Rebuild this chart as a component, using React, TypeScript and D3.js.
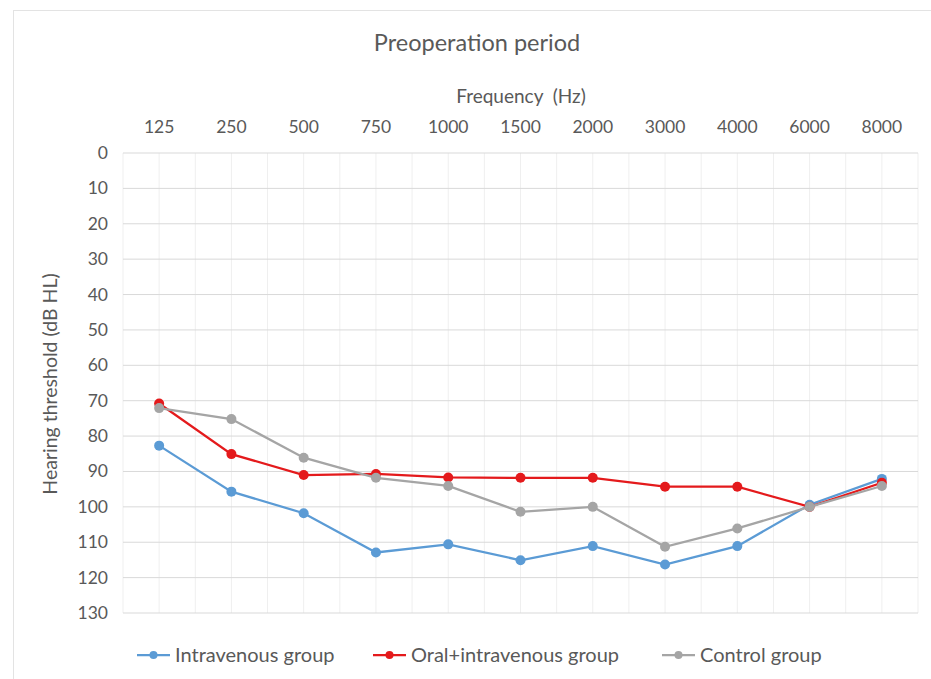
import React from "react";
import * as d3 from "d3";

const frequencies = ["125", "250", "500", "750", "1000", "1500", "2000", "3000", "4000", "6000", "8000"];
const intravenous = [82.7, 95.7, 101.8, 112.9, 110.6, 115.1, 111.1, 116.3, 111.1, 99.4, 92.1];
const oralIntravenous = [70.8, 85.1, 91.0, 90.7, 91.7, 91.8, 91.8, 94.3, 94.3, 100.0, 93.2];
const control = [72.1, 75.2, 86.1, 91.8, 94.1, 101.4, 100.0, 111.3, 106.1, 100.0, 94.1];
const yTicks = [0, 10, 20, 30, 40, 50, 60, 70, 80, 90, 100, 110, 120, 130];

const seriesNames = ["Intravenous group", "Oral+intravenous group", "Control group"];
const seriesColors = ["#5b9bd5", "#e41a1c", "#a5a5a5"];
const seriesValues = [intravenous, oralIntravenous, control];

const W = 931;
const H = 679;
const FONT = "Lato, 'Open Sans', sans-serif";

export default function App() {
  const x = d3.scaleBand<string>().domain(frequencies).range([123, 918]);
  const y = d3.scaleLinear().domain([0, 130]).range([153, 613]);
  const cx = (f: string) => (x(f) as number) + x.bandwidth() / 2;
  const line = d3
    .line<number>()
    .x((_, i) => cx(frequencies[i]))
    .y((v) => y(v));

  const halfLines: number[] = [];
  for (let k = 0; k <= frequencies.length * 2; k++) {
    halfLines.push(123 + (k * x.bandwidth()) / 2);
  }

  const legendX = [137, 373, 662];
  const legendY = 655;

  return (
    <svg
      width={W}
      height={H}
      style={{ position: "absolute", left: 0, top: 0, background: "#fff" }}
      fontFamily={FONT}
    >
      <rect x={0} y={0} width={W} height={H} fill="#fff" />
      <rect x={13.5} y={10.5} width={W} height={H} fill="none" stroke="#e3e3e3" />
      <text x={477} y={51} textAnchor="middle" fontSize={23.5} fill="#595959">
        Preoperation period
      </text>
      <text x={521} y={103} textAnchor="middle" fontSize={19} fill="#595959" style={{ whiteSpace: "pre" }}>
        {"Frequency  (Hz)"}
      </text>
      {halfLines.map((hx, i) => (
        <line key={"v" + i} x1={hx} x2={hx} y1={y(0)} y2={y(130)} stroke="#efefef" strokeWidth={1} />
      ))}
      {yTicks.map((t) => (
        <line key={"h" + t} x1={123} x2={918} y1={y(t)} y2={y(t)} stroke="#d9d9d9" strokeWidth={1} />
      ))}
      {yTicks.map((t) => (
        <text key={"yt" + t} x={108} y={y(t) + 6} textAnchor="end" fontSize={17.5} fill="#595959">
          {t}
        </text>
      ))}
      {frequencies.map((f) => (
        <text key={"xt" + f} x={cx(f)} y={133} textAnchor="middle" fontSize={17.5} fill="#595959">
          {f}
        </text>
      ))}
      <text
        transform={`translate(57, ${384}) rotate(-90)`}
        textAnchor="middle"
        fontSize={19.5}
        fill="#595959"
      >
        Hearing threshold (dB HL)
      </text>
      {seriesValues.map((vals, si) => (
        <g key={"s" + si}>
          <path d={line(vals) as string} fill="none" stroke={seriesColors[si]} strokeWidth={2.25} />
          {vals.map((v, i) => (
            <circle key={i} cx={cx(frequencies[i])} cy={y(v)} r={5} fill={seriesColors[si]} />
          ))}
        </g>
      ))}
      {seriesNames.map((n, si) => (
        <g key={"l" + si}>
          <line
            x1={legendX[si]}
            x2={legendX[si] + 33}
            y1={legendY}
            y2={legendY}
            stroke={seriesColors[si]}
            strokeWidth={2.25}
          />
          <circle cx={legendX[si] + 16.5} cy={legendY} r={4} fill={seriesColors[si]} />
          <text x={legendX[si] + 38} y={legendY + 7} fontSize={20} fill="#595959">
            {n}
          </text>
        </g>
      ))}
    </svg>
  );
}
